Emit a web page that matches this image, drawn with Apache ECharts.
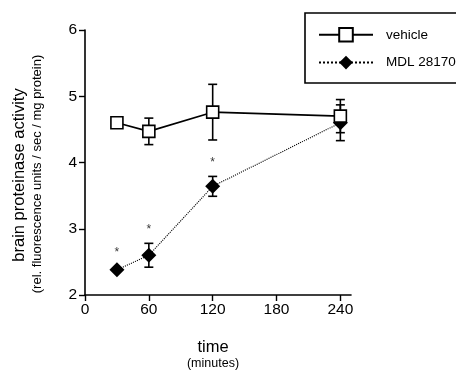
<!DOCTYPE html>
<html>
<head>
<meta charset="utf-8">
<script src="https://cdn.jsdelivr.net/npm/echarts@6/dist/echarts.min.js"></script>
<style>
  html, body { margin: 0; padding: 0; background: #fff; }
  #chart { width: 456px; height: 370px; }
</style>
</head>
<body>
<div id="chart"></div>
<script>
const times = [30, 60, 120, 240];
const vehicleMean = [4.6, 4.47, 4.76, 4.7];
const vehicleErr = [0, 0.2, 0.42, 0.25];
const mdlMean = [2.38, 2.6, 3.64, 4.6];
const mdlErr = [0, 0.18, 0.15, 0.27];
const starTimes = [30, 60, 120];
const starLevels = [2.64, 2.99, 3.99];
const xTicks = [0, 60, 120, 180, 240];

const font = 'Liberation Sans, Arial, sans-serif';

function errData(means, errs) {
  return times.map((t, i) => [t, means[i] - errs[i], means[i] + errs[i]]);
}

function errorBar(params, api) {
  const x = api.value(0);
  const lo = api.coord([x, api.value(1)]);
  const hi = api.coord([x, api.value(2)]);
  if (Math.abs(lo[1] - hi[1]) < 1) return null;
  const w = 4.5;
  const style = { stroke: '#000', lineWidth: 1.6 };
  return {
    type: 'group',
    children: [
      { type: 'line', shape: { x1: lo[0], y1: lo[1], x2: hi[0], y2: hi[1] }, style },
      { type: 'line', shape: { x1: lo[0] - w, y1: lo[1], x2: lo[0] + w, y2: lo[1] }, style },
      { type: 'line', shape: { x1: hi[0] - w, y1: hi[1], x2: hi[0] + w, y2: hi[1] }, style }
    ]
  };
}

const chart = echarts.init(document.getElementById('chart'));
chart.setOption({
  animation: false,
  textStyle: { fontFamily: font, color: '#000' },
  grid: { left: 85, right: 105, top: 30, bottom: 75 },
  xAxis: {
    type: 'value', min: 0, max: 250,
    axisLine: { lineStyle: { color: '#000', width: 1.6 } },
    axisTick: { length: 6, lineStyle: { color: '#000', width: 1.4 }, customValues: xTicks },
    axisLabel: { fontSize: 15.5, color: '#000', margin: 7, customValues: xTicks },
    splitLine: { show: false }
  },
  yAxis: {
    type: 'value', min: 2, max: 6, interval: 1,
    axisLine: { show: true, lineStyle: { color: '#000', width: 1.6 } },
    axisTick: { show: true, length: 6, lineStyle: { color: '#000', width: 1.4 } },
    axisLabel: { fontSize: 15.5, color: '#000', margin: 8 },
    splitLine: { show: false }
  },
  legend: {
    orient: 'vertical', left: 313, top: 22, itemGap: 13,
    itemWidth: 54, itemHeight: 17,
    textStyle: { fontSize: 13.5, color: '#000', padding: [0, 0, 0, 8] },
    data: ['vehicle', 'MDL 28170']
  },
  graphic: [
    { type: 'rect', shape: { x: 305, y: 13, width: 170, height: 70 },
      style: { fill: 'none', stroke: '#000', lineWidth: 1.6 } },
    { type: 'text', x: 19, y: 175, rotation: Math.PI / 2,
      style: { text: 'brain proteinase activity', font: '16.5px ' + font, fill: '#000',
               align: 'center', verticalAlign: 'middle' } },
    { type: 'text', x: 37, y: 174, rotation: Math.PI / 2,
      style: { text: '(rel. fluorescence units / sec / mg protein)', font: '13px ' + font, fill: '#000',
               align: 'center', verticalAlign: 'middle' } },
    { type: 'text', x: 213, y: 347,
      style: { text: 'time', font: '16.5px ' + font, fill: '#000', align: 'center', verticalAlign: 'middle' } },
    { type: 'text', x: 213, y: 364,
      style: { text: '(minutes)', font: '12.5px ' + font, fill: '#000', align: 'center', verticalAlign: 'middle' } }
  ],
  series: [
    {
      type: 'custom', renderItem: errorBar, data: errData(mdlMean, mdlErr), z: 1, silent: true
    },
    {
      type: 'custom', renderItem: errorBar, data: errData(vehicleMean, vehicleErr), z: 1, silent: true
    },
    {
      name: 'MDL 28170', type: 'line', z: 3,
      data: times.map((t, i) => [t, mdlMean[i]]),
      symbol: 'diamond', symbolSize: 15,
      itemStyle: { color: '#000' },
      lineStyle: { color: '#000', width: 1.1, type: 'dotted' }
    },
    {
      name: 'vehicle', type: 'line', z: 4,
      data: times.map((t, i) => [t, vehicleMean[i]]),
      symbol: 'rect', symbolSize: 12, showAllSymbol: true,
      itemStyle: { color: '#fff', borderColor: '#000', borderWidth: 1.6 },
      lineStyle: { color: '#000', width: 1.6 }
    },
    {
      type: 'scatter', symbolSize: 0, silent: true,
      data: starTimes.map((t, i) => [t, starLevels[i]]),
      label: { show: true, position: 'inside', formatter: '*', fontSize: 12, color: '#000' }
    }
  ]
});
</script>
</body>
</html>
